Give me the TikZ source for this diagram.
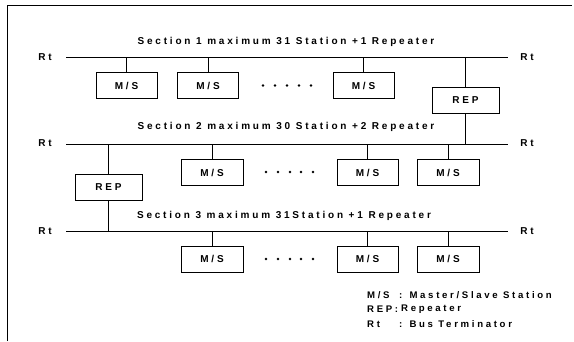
\documentclass[tikz,border=0pt]{standalone}
\usepackage{fontspec}
\setmainfont{Liberation Sans}[LetterSpace=28]
\begin{document}
\begin{tikzpicture}[x=1pt,y=-1pt,
  lbl/.style={font=\bfseries\fontsize{10}{12}\selectfont, inner sep=0pt},
  key/.style={font=\bfseries\fontsize{9.6}{12}\selectfont, inner sep=0pt, anchor=west},
  unit/.style={draw, line width=0.7pt, minimum width=61pt, minimum height=26pt, inner sep=0pt, font=\bfseries\fontsize{10}{12}\selectfont},
  bus/.style={line width=0.8pt},
  wire/.style={line width=0.7pt},
  dotc/.style={circle, fill, inner sep=0pt, minimum size=2.8pt}]
\useasboundingbox (0,0) rectangle (574,341);
% frame
\draw[line width=1pt] (7,341) -- (7,5) -- (572,5);

% section labels
\node[lbl] (s1) at (286,42) {Section 1 maximum 31 Station +1 Repeater};
\node[lbl] (s2) at (286,127) {Section 2 maximum 30 Station +2 Repeater};
\node[lbl] (s3) at (284,216) {Section 3 maximum 31Station +1 Repeater};

% terminators
\node[lbl] (rt1l) at (45,57) {Rt};
\node[lbl] (rt1r) at (527,57) {Rt};
\node[lbl] (rt2l) at (45,143) {Rt};
\node[lbl] (rt2r) at (527,143) {Rt};
\node[lbl] (rt3l) at (45,231) {Rt};
\node[lbl] (rt3r) at (527,231) {Rt};
\coordinate (b1l) at (66,57);  \coordinate (b1r) at (508,57);
\coordinate (b2l) at (66,144); \coordinate (b2r) at (508,144);
\coordinate (b3l) at (66,231); \coordinate (b3r) at (508,231);
\draw[bus] (b1l) -- (b1r);
\draw[bus] (b2l) -- (b2r);
\draw[bus] (b3l) -- (b3r);

% row 1
\node[unit] (m11) at (126.5,85.5) {M/S};
\node[unit] (m12) at (208,85.5) {M/S};
\node[unit] (m13) at (363.5,85.5) {M/S};
\node[unit, minimum width=67pt] (rep1) at (465.5,100) {REP};
\foreach \n in {m11,m12,m13,rep1} \draw[wire] (\n.north) -- (\n.north |- b1l);
\draw[wire] (rep1.south) -- (rep1.south |- b2l);
\foreach \i/\x in {1/263,2/275,3/287,4/299,5/311} \node[dotc] (d1\i) at (\x,85.5) {};

% row 2
\node[unit, minimum width=67pt] (rep2) at (108.5,187.5) {REP};
\node[unit, minimum width=62pt] (m21) at (212,172.5) {M/S};
\node[unit] (m22) at (367.5,172.5) {M/S};
\node[unit, minimum width=62pt] (m23) at (448,172.5) {M/S};
\foreach \n in {rep2,m21,m22,m23} \draw[wire] (\n.north) -- (\n.north |- b2l);
\draw[wire] (rep2.south) -- (rep2.south |- b3l);
\foreach \i/\x in {1/266,2/278,3/290,4/301,5/313} \node[dotc] (d2\i) at (\x,172) {};

% row 3
\node[unit, minimum width=62pt] (m31) at (212,259) {M/S};
\node[unit] (m32) at (367.5,259) {M/S};
\node[unit, minimum width=62pt] (m33) at (448,259) {M/S};
\foreach \n in {m31,m32,m33} \draw[wire] (\n.north) -- (\n.north |- b3l);
\foreach \i/\x in {1/266,2/278,3/290,4/301,5/313} \node[dotc] (d3\i) at (\x,259) {};

% legend
\node[key] (k1) at (367,295) {M/S};
\node[key] (k1c) at (399,295) {: Master/Slave Station};
\node[key] (k2) at (367,309.5) {REP:};
\node[key] (k2c) at (401,309.5) {Repeater};
\node[key] (k3) at (367,324) {Rt};
\node[key] (k3c) at (399,324) {: Bus Terminator};
\end{tikzpicture}
\end{document}
